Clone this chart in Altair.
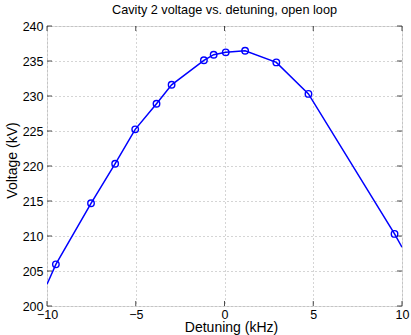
import altair as alt
import pandas as pd

# Measured points (markers)
detuning = [-9.5, -7.52, -6.16, -5.03, -3.83, -2.98, -1.16, -0.61, 0.07, 1.16, 2.92, 4.73, 9.58]
voltage = [205.95, 214.67, 220.33, 225.24, 228.9, 231.6, 235.1, 235.9, 236.24, 236.47, 234.8, 230.3, 210.3]

# Line continues to the plot edges
line_x = [-10.0] + detuning + [10.0]
line_y = [203.1] + voltage + [208.4]

x_ticks = [-10, -5, 0, 5, 10]
y_ticks = [200, 205, 210, 215, 220, 225, 230, 235, 240]

W, H = 355, 280
FONT = "Liberation Sans"
BLUE = "#0000FF"

pts = pd.DataFrame({"x": detuning, "y": voltage})
ln = pd.DataFrame({"x": line_x, "y": line_y})
xt = pd.DataFrame({"t": x_ticks})
yt = pd.DataFrame({"t": y_ticks})

xscale = alt.Scale(domain=[-10, 10], nice=False, zero=False)
yscale = alt.Scale(domain=[200, 240], nice=False, zero=False)

xaxis = alt.Axis(values=x_ticks, title="Detuning (kHz)", grid=True, gridDash=[1, 3],
                 gridColor="#aaaaaa", gridOpacity=1, ticks=False, domain=False,
                 labelFontSize=12.5, labelColor="black", labelFont=FONT, labelPadding=2,
                 labelOverlap=False,
                 titleFont=FONT, titleFontSize=14, titleFontWeight="normal",
                 titleColor="black", titlePadding=0, titleX=184, labelFlush=False)
yaxis = alt.Axis(values=y_ticks, title="Voltage (kV)", grid=True, gridDash=[1, 3],
                 gridColor="#aaaaaa", gridOpacity=1, ticks=False, domain=False,
                 labelFontSize=12.5, labelColor="black", labelFont=FONT, labelPadding=4,
                 labelOverlap=False,
                 titleFont=FONT, titleFontSize=14, titleFontWeight="normal",
                 titleColor="black", titlePadding=3, titleY=134, labelFlush=False)

line = alt.Chart(ln).mark_line(color=BLUE, strokeWidth=1.5, clip=True).encode(
    x=alt.X("x:Q", scale=xscale, axis=xaxis),
    y=alt.Y("y:Q", scale=yscale, axis=yaxis),
)
points = alt.Chart(pts).mark_point(shape="circle", filled=False, color=BLUE,
                                   size=42, strokeWidth=1.4, opacity=1).encode(
    x=alt.X("x:Q", scale=xscale, axis=xaxis),
    y=alt.Y("y:Q", scale=yscale, axis=yaxis),
)

tick_x_bottom = alt.Chart(xt).mark_tick(color="black", orient="vertical", size=5, thickness=1).encode(
    x=alt.X("t:Q", scale=xscale, axis=xaxis), y=alt.value(H - 2.5))
tick_x_top = alt.Chart(xt).mark_tick(color="black", orient="vertical", size=5, thickness=1).encode(
    x=alt.X("t:Q", scale=xscale, axis=xaxis), y=alt.value(2.5))
tick_y_left = alt.Chart(yt).mark_tick(color="black", orient="horizontal", size=5, thickness=1).encode(
    y=alt.Y("t:Q", scale=yscale, axis=yaxis), x=alt.value(2.5))
tick_y_right = alt.Chart(yt).mark_tick(color="black", orient="horizontal", size=5, thickness=1).encode(
    y=alt.Y("t:Q", scale=yscale, axis=yaxis), x=alt.value(W - 2.5))

chart = alt.layer(line, points, tick_x_bottom, tick_x_top, tick_y_left, tick_y_right).properties(
    width=W, height=H,
    title=alt.TitleParams("Cavity 2 voltage vs. detuning, open loop", fontSize=12.7,
                          fontWeight="normal", font=FONT, color="black", offset=3),
    autosize=alt.AutoSizeParams(type="none"),
    padding={"left": 47, "top": 26, "right": 9, "bottom": 29},
).configure_view(stroke="black", strokeWidth=1.2).configure(background="white")

chart.save("out.html", embed_options={"renderer": "svg", "actions": False})
